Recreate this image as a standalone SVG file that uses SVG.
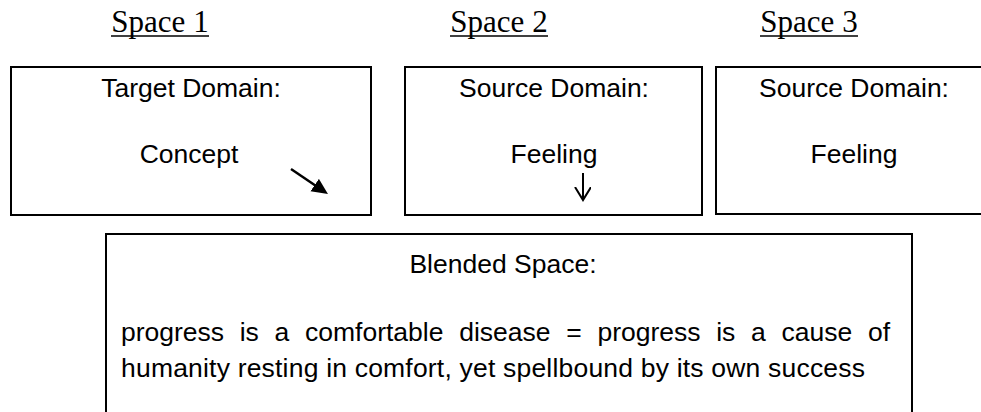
<svg xmlns="http://www.w3.org/2000/svg" width="981" height="412" viewBox="0 0 981 412">
  <style>
    .box { fill: #ffffff; stroke: #000000; stroke-width: 2; }
    .title { font-family: "Liberation Serif", "Times New Roman", serif; font-size: 31px; fill: #000; text-anchor: middle; }
    .uline { stroke: #000; stroke-width: 1.6; }
    .t { font-family: "Liberation Sans", Arial, sans-serif; font-size: 26.5px; fill: #000; }
    .c { text-anchor: middle; }
    .conn { stroke: #000; fill: none; }
  </style>
  <defs>
    <marker id="solidHead" markerUnits="userSpaceOnUse" markerWidth="18" markerHeight="16" refX="7" refY="7.5" orient="auto">
      <path d="M0,0 L16,7.5 L0,15 z" fill="#000"/>
    </marker>
    <marker id="openHead" markerUnits="userSpaceOnUse" markerWidth="16" markerHeight="20" refX="13" refY="8" orient="auto">
      <path d="M0,0 L13,8 L0,16" fill="none" stroke="#000" stroke-width="2"/>
    </marker>
  </defs>
  <rect x="0" y="0" width="981" height="412" fill="#ffffff"/>

  <g id="space-labels">
    <text class="title" x="160" y="32">Space 1</text>
    <line class="uline" x1="111" y1="36" x2="209" y2="36"/>
    <text class="title" x="499" y="32">Space 2</text>
    <line class="uline" x1="450" y1="36" x2="548" y2="36"/>
    <text class="title" x="809" y="32">Space 3</text>
    <line class="uline" x1="760" y1="36" x2="858" y2="36"/>
  </g>

  <g id="space1">
    <rect class="box" x="11" y="67" width="360" height="148"/>
    <text class="t c" x="191" y="97">Target Domain:</text>
    <text class="t c" x="189" y="163">Concept</text>
  </g>

  <g id="space2">
    <rect class="box" x="405" y="67" width="297" height="148"/>
    <text class="t c" x="554" y="97">Source Domain:</text>
    <text class="t c" x="554" y="163">Feeling</text>
  </g>

  <g id="space3">
    <rect class="box" x="716" y="67" width="290" height="147"/>
    <text class="t c" x="854" y="97">Source Domain:</text>
    <text class="t c" x="854" y="163">Feeling</text>
  </g>

  <g id="blended">
    <rect class="box" x="106" y="234" width="806" height="200"/>
    <text class="t c" x="503" y="273">Blended Space:</text>
    <text class="t" y="341"><tspan x="121">progress</tspan><tspan x="239.7">is</tspan><tspan x="274.6">a</tspan><tspan x="305">comfortable</tspan><tspan x="459.2">disease</tspan><tspan x="566.2">=</tspan><tspan x="597.5">progress</tspan><tspan x="716.2">is</tspan><tspan x="751">a</tspan><tspan x="781.5">cause</tspan><tspan x="867.9">of</tspan></text>
    <text class="t" x="121" y="377" textLength="744" lengthAdjust="spacing">humanity resting in comfort, yet spellbound by its own success</text>
  </g>

  <g id="connectors">
    <line class="conn" x1="291" y1="169" x2="320.5" y2="189" stroke-width="2.5" marker-end="url(#solidHead)"/>
    <line class="conn" x1="583" y1="173" x2="583" y2="200" stroke-width="2" marker-end="url(#openHead)"/>
  </g>
</svg>
